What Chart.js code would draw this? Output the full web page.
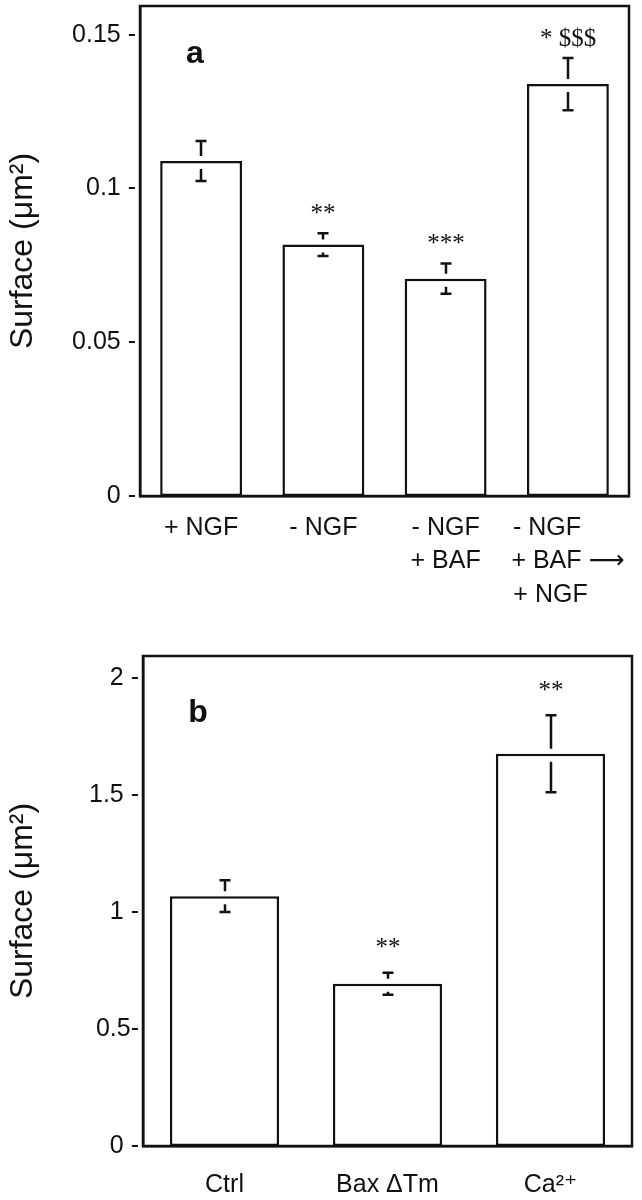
<!DOCTYPE html>
<html><head><meta charset="utf-8">
<script src="https://cdn.jsdelivr.net/npm/chart.js@4/dist/chart.umd.min.js"></script>
<style>
html,body{margin:0;padding:0;background:#fff;}
#wa{position:absolute;left:0;top:0;width:642px;height:620px;}
#wb{position:absolute;left:0;top:620px;width:642px;height:580px;}
</style></head><body>
<div id="wa"><canvas id="ca"></canvas></div>
<div id="wb"><canvas id="cb"></canvas></div>
<script>
const catsA = [['+ NGF'], ['- NGF'], ['- NGF', '+ BAF'], ['- NGF      ', '+ BAF \u27F6', '+ NGF     ']];
const meanA = [0.109, 0.0818, 0.0707, 0.134];
const errA = [0.0065, 0.0037, 0.0049, 0.0085];
const sigA = ['', '**', '***', '* $$$'];
const ticksA = [0, 0.05, 0.1, 0.15];
const tickLabelsA = ['0 -', '0.05 -', '0.1 -', '0.15 -'];

const catsB = ['Ctrl', 'Bax \u0394Tm', 'Ca\u00B2\u207A'];
const meanB = [1.068, 0.694, 1.677];
const errB = [0.068, 0.047, 0.165];
const sigB = ['', '**', '**'];
const ticksB = [0, 0.5, 1, 1.5, 2];
const tickLabelsB = ['0 -', '0.5-', '1 -', '1.5 -', '2 -'];

const INK = '#111';
const SANS = '"Liberation Sans", Arial, "DejaVu Sans", sans-serif';
const SERIF = '"Liberation Serif", "Times New Roman", serif';

function extras(errs, sigs, letter, opts) {
  return {
    id: 'extras',
    afterDatasetsDraw(chart) {
      const ctx = chart.ctx, ca = chart.chartArea, ys = chart.scales.y;
      const meta = chart.getDatasetMeta(0);
      const vals = chart.data.datasets[0].data;
      ctx.save();
      ctx.strokeStyle = INK; ctx.lineWidth = 2.5;
      ctx.strokeRect(ca.left, ca.top, ca.right - ca.left, ca.bottom - ca.top);
      meta.data.forEach((bar, i) => {
        const x = Math.round(bar.x);
        const yTop = ys.getPixelForValue(vals[i] + errs[i]);
        const yBot = ys.getPixelForValue(vals[i] - errs[i]);
        const yv = bar.y;
        ctx.lineWidth = 2.5;
        ctx.beginPath();
        ctx.moveTo(x, yTop); ctx.lineTo(x, yv - 5);
        ctx.moveTo(x, yv + 8); ctx.lineTo(x, yBot);
        ctx.moveTo(x - 5.5, yTop); ctx.lineTo(x + 5.5, yTop);
        ctx.moveTo(x - 5.5, yBot); ctx.lineTo(x + 5.5, yBot);
        ctx.stroke();
        if (sigs[i]) {
          ctx.fillStyle = INK;
          ctx.font = '25px ' + SERIF;
          ctx.textAlign = 'center'; ctx.textBaseline = 'middle';
          ctx.fillText(sigs[i], x, yTop - opts.sigOff);
        }
      });
      ctx.fillStyle = INK;
      ctx.font = 'bold 32px ' + SANS;
      ctx.textAlign = 'center'; ctx.textBaseline = 'alphabetic';
      ctx.fillText(letter, ca.left + 55, ca.top + opts.letterY);
      ctx.restore();
    }
  };
}

function makeChart(id, cats, vals, errs, sigs, ticks, tickLabels, yMax, letter, opts) {
  return new Chart(document.getElementById(id), {
    type: 'bar',
    data: {
      labels: cats,
      datasets: [{
        data: vals,
        backgroundColor: '#fff',
        borderColor: INK,
        borderWidth: 2.5,
        borderSkipped: false,
        barPercentage: 0.67,
        categoryPercentage: 1.0
      }]
    },
    options: {
      responsive: true,
      maintainAspectRatio: false,
      animation: false,
      layout: { padding: { top: opts.top, right: opts.right, left: 0, bottom: 0 } },
      plugins: { legend: { display: false }, tooltip: { enabled: false } },
      scales: {
        x: {
          grid: { display: false, drawTicks: false },
          border: { display: true, color: INK, width: 2.5 },
          ticks: { color: INK, font: { family: SANS, size: 25, lineHeight: 1.34 }, padding: opts.xPad, maxRotation: 0, autoSkip: false },
          afterFit: s => { s.height = opts.xH; s.paddingLeft = 0; s.paddingRight = 0; }
        },
        y: {
          min: 0, max: yMax,
          grid: { display: false, drawTicks: false },
          border: { display: true, color: INK, width: 2.5 },
          afterBuildTicks: s => { s.ticks = ticks.map(v => ({ value: v })); },
          ticks: { color: INK, font: { family: SANS, size: 25 }, padding: 4,
                   callback: (v, i) => tickLabels[i] },
          title: { display: true, text: 'Surface (\u03BCm\u00B2)', color: INK,
                   font: { family: SANS, size: 32 }, padding: { top: 4, bottom: 0 } },
          afterFit: s => { s.width = opts.yW; s.paddingTop = 0; s.paddingBottom = 0; }
        }
      }
    },
    plugins: [extras(errs, sigs, letter, opts)]
  });
}

makeChart('ca', catsA, meanA, errA, sigA, ticksA, tickLabelsA, 0.1594, 'a',
  { top: 6, right: 13, xH: 124, yW: 140, xPad: 15, sigOff: 19, letterY: 57 });
makeChart('cb', catsB, meanB, errB, sigB, ticksB, tickLabelsB, 2.095, 'b',
  { top: 36, right: 10, xH: 54, yW: 143, xPad: 22, sigOff: 24, letterY: 66 });
</script>
</body></html>
